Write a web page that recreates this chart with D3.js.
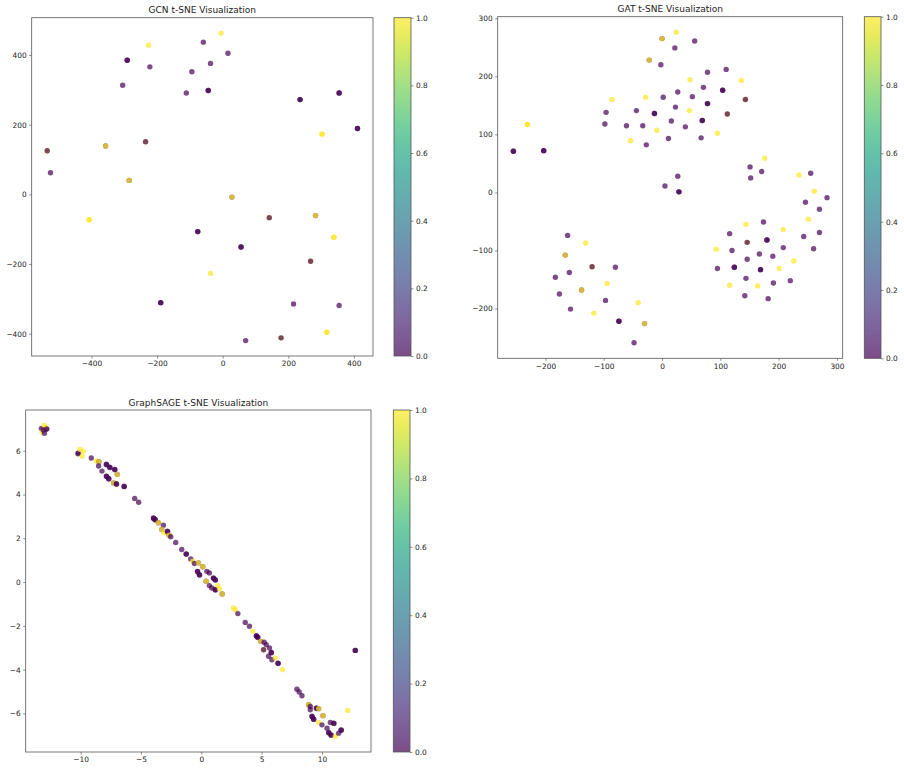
<!DOCTYPE html>
<html><head><meta charset="utf-8">
<script src="https://cdn.jsdelivr.net/npm/d3@7"></script>
<style>body{margin:0;background:#fff}svg{display:block}text{font-family:"DejaVu Sans",sans-serif;fill:#222}</style>
</head><body><svg id="c" width="904" height="769"></svg>
<script>
// ---------- DATA ----------
const colorbarTicks = [0, 0.2, 0.4, 0.6, 0.8, 1.0];

// GCN
const gcnX = [-59,16,-222,-37,-94,-305,-111,-525,216,355,70,
  -291,-291,-44,-44,236,236,355,355,411,411,-76,-76,56,56,-189,-189,
  -226,-5,-37,
  303,303,-407,-407,339,339,317,317,
  -357,-357,-285,-285,28,28,283,283,
  -535,-535,-235,-235,142,142,268,268,178,178];
const gcnY = [437,405,366,376,352,313,291,62,-315,-319,-420,
  385,385,298,298,272,272,291,291,189,189,-107,-107,-151,-151,-311,-311,
  428,463,-227,
  173,173,-73,-73,-123,-123,-396,-396,
  139,139,40,40,-8,-8,-61,-61,
  125,125,151,151,-67,-67,-192,-192,-412,-412];
const gcnLabel = [0,0,0,0,0,0,0,0,0,0,0,
  0,0,0,0,0,0,0,0,0,0,0,0,0,0,0,0,
  1,1,1,
  1,1,1,1,1,1,1,1,
  0,1,0,1,0,1,0,1,
  1,0,1,0,1,0,1,0,1,0];
const gcnXTicks = [-400,-200,0,200,400];
const gcnYTicks = [-400,-200,0,200,400];

// GAT
const gatX = [56,22,-2,78,110,71,27,2,52,-96,-44,23,16,-98,-61,-33,40,11,67,-27,5,27,151,171,152,255,283,246,270,174,116,243,270,208,260,120,167,190,146,95,144,220,191,142,182,-162,-80,-183,-159,-176,-157,-97,-48,
  104,104,78,78,-13,-13,69,69,-255,-255,-203,-203,29,29,180,180,124,124,169,169,-74,-74,
  24.5,48,136,-86,-28,47,-9,95,-54,176,235,261,251,144,208,93,226,201,116,164,-131,-94,-41,-117,
  -231,-231,
  0,0,-22,-22,-166,-166,-138,-138,-30,-30,
  143,143,112,112,146,146,-120,-120];
const gatY = [261,249,220,207,212,181,173,164,165,138,141,147,123,118,115,115,113,93,94,82,11,28,44,36,25,33,-9,-17,-29,-51,-71,-76,-69,-95,-97,-100,-106,-110,-115,-131,-148,-152,-156,-178,-183,-74,-129,-146,-138,-175,-201,-186,-259,
  176,176,153,153,136,136,124,124,71,71,72,72,1,1,-82,-82,-129,-129,-133,-133,-222,-222,
  276,194,193,160,164,141,107,102,89,59,30,2,-46,-55,-64,-98,-118,-131,-160,-161,-87,-157,-190,-208,
  117,117,
  265,265,228,228,-108,-108,-168,-168,-226,-226,
  160,160,135,135,-86,-86,-128,-128];
const gatLabel = [0,0,0,0,0,0,0,0,0,0,0,0,0,0,0,0,0,0,0,0,0,0,0,0,0,0,0,0,0,0,0,0,0,0,0,0,0,0,0,0,0,0,0,0,0,0,0,0,0,0,0,0,0,
  0,0,0,0,0,0,0,0,0,0,0,0,0,0,0,0,0,0,0,0,0,0,
  1,1,1,1,1,1,1,1,1,1,1,1,1,1,1,1,1,1,1,1,1,1,1,1,
  1,1,
  0,1,0,1,0,1,0,1,0,1,
  1,0,1,0,1,0,1,0];
const gatXTicks = [-200,-100,0,100,200,300];
const gatYTicks = [-200,-100,0,100,200,300];

// GraphSAGE
const sageX = [-13.25,-13.0,-12.85,-12.9,-13.2,-13.0,-13.1,-12.8,
  -10.22,-10.18,-10.05,-9.8,-9.87,-9.12,-8.7,-8.48,-8.48,-8.51,-8.23,
  -7.87,-7.85,-7.59,-7.57,-7.18,-7.16,-6.96,-6.96,-7.87,-7.85,-7.68,-7.66,-7.26,-7.26,-7.04,-7.02,-6.4,-6.38,
  -5.52,-5.19,-3.97,-3.95,-3.83,-3.81,-3.56,-3.56,-3.14,-3.28,-3.28,-3.09,-2.81,-2.79,-2.67,-2.67,-2.53,-2.12,-1.62,-1.26,-1.24,
  -0.87,-0.71,-0.57,-0.24,-0.24,0.12,0.12,0.46,0.67,-0.32,-0.30,-0.16,-0.14,1.0,1.02,1.15,1.17,0.4,0.4,0.67,0.87,1.15,1.17,
  1.37,1.51,1.73,1.73,2.67,2.81,3.03,3.64,3.99,4.27,4.55,4.57,4.66,4.68,4.94,4.94,5.21,5.38,5.16,5.16,5.65,5.79,5.81,5.57,5.85,6.13,6.35,6.37,6.73,
  12.76,12.76,7.92,8.11,8.34,8.89,8.89,9.03,9.53,9.55,9.72,9.72,9.03,9.17,9.19,9.3,9.32,10.08,10.08,9.72,10.0,10.69,10.97,10.99,10.42,10.55,10.57,10.75,10.77,11.1,11.38,11.58,11.6,12.13];
const sageY = [7.02,7.15,6.98,7.08,6.86,6.8,6.95,7.0,
  5.86,5.9,6.06,5.98,5.75,5.67,5.53,5.5,5.5,5.3,5.07,
  5.38,5.36,5.25,5.23,5.15,5.13,4.92,4.92,4.84,4.82,4.73,4.71,4.53,4.53,4.49,4.47,4.38,4.36,
  3.82,3.65,2.93,2.91,2.86,2.84,2.71,2.71,2.6,2.4,2.4,2.25,2.32,2.3,2.14,2.14,2.07,1.81,1.49,1.29,1.27,
  1.06,0.95,0.85,0.88,0.88,0.7,0.7,0.49,0.42,0.49,0.47,0.34,0.32,0.19,0.17,0.11,0.09,0.04,0.04,-0.16,-0.27,-0.34,-0.36,
  -0.16,-0.31,-0.54,-0.54,-1.18,-1.26,-1.44,-1.84,-2.02,-2.25,-2.45,-2.47,-2.51,-2.53,-2.71,-2.71,-2.75,-2.86,-3.09,-3.09,-3.01,-3.21,-3.23,-3.39,-3.55,-3.47,-3.7,-3.72,-4.0,
  -3.12,-3.12,-4.89,-5.02,-5.19,-5.6,-5.6,-5.68,-5.75,-5.77,-5.78,-5.78,-5.83,-6.13,-6.15,-6.25,-6.27,-6.1,-6.1,-6.41,-6.52,-6.41,-6.44,-6.46,-6.67,-6.87,-6.89,-6.98,-7.0,-7.05,-6.9,-6.75,-6.77,-5.86];
const sageLabel = [0,1,0,1,1,0,0,0,
  0,0,1,1,1,0,1,0,1,0,0,
  0,0,0,0,0,0,0,1,0,0,0,0,0,1,0,0,0,0,
  0,0,0,0,0,0,0,1,0,0,1,1,0,0,0,1,0,0,0,0,0,
  0,1,0,0,1,0,1,0,0,0,0,0,0,0,0,0,0,0,1,0,0,0,0,
  1,1,0,1,1,1,0,0,0,1,0,0,0,0,0,1,0,0,1,0,0,0,0,0,0,1,0,0,1,
  0,0,0,0,0,0,1,0,0,0,0,1,0,0,0,0,0,0,1,1,0,0,0,0,0,0,0,0,0,1,0,0,0,1];
const sageXTicks = [-10,-5,0,5,10];
const sageYTicks = [-6,-4,-2,0,2,4,6];

// ---------- DRAW ----------
const svg = d3.select('#c');
const color = d3.interpolateViridis;
const ALPHA = 0.7, R = 2.7;
const TICK_FS = '7.4px', TITLE_FS = '9px';

const defs = svg.append('defs');
const grad = defs.append('linearGradient').attr('id','vir').attr('x1',0).attr('y1',1).attr('x2',0).attr('y2',0);
d3.range(0, 1.0001, 0.05).forEach(t => grad.append('stop').attr('offset', t).attr('stop-color', color(t)));

function pad(ext){ const d = (ext[1]-ext[0])*0.05; return [ext[0]-d, ext[1]+d]; }

function panel(title, xs, ys, labels, xTicks, yTicks, box, cb){
  const g = svg.append('g');
  const x = d3.scaleLinear().domain(pad(d3.extent(xs))).range([box.l, box.r]);
  const y = d3.scaleLinear().domain(pad(d3.extent(ys))).range([box.b, box.t]);
  g.append('g').selectAll('circle').data(d3.range(xs.length)).join('circle')
    .attr('cx', i => x(xs[i])).attr('cy', i => y(ys[i])).attr('r', R)
    .attr('fill', i => color(labels[i])).attr('fill-opacity', ALPHA);
  const fmt = d3.format('d');
  const ax = g.append('g').attr('transform', `translate(0,${box.b})`)
    .call(d3.axisBottom(x).tickValues(xTicks).tickFormat(fmt).tickSize(2.5).tickPadding(2.5));
  const ay = g.append('g').attr('transform', `translate(${box.l},0)`)
    .call(d3.axisLeft(y).tickValues(yTicks).tickFormat(fmt).tickSize(2.5).tickPadding(2.5));
  [ax, ay].forEach(a => { a.select('.domain').remove(); a.selectAll('text').style('font-size',TICK_FS).attr('fill','#222'); a.selectAll('line').attr('stroke','#444').attr('stroke-width',0.6); });
  g.append('rect').attr('x', box.l).attr('y', box.t).attr('width', box.r-box.l).attr('height', box.b-box.t)
    .attr('fill','none').attr('stroke','#555').attr('stroke-width',0.8);
  g.append('text').attr('x', (box.l+box.r)/2).attr('y', box.t-4.3).attr('text-anchor','middle')
    .style('font-size',TITLE_FS).text(title);
  const cy = d3.scaleLinear().domain([0,1]).range([box.b, box.t]);
  g.append('rect').attr('x', cb.l).attr('y', box.t).attr('width', cb.r-cb.l).attr('height', box.b-box.t)
    .attr('fill','url(#vir)').attr('fill-opacity', ALPHA);
  g.append('rect').attr('x', cb.l).attr('y', box.t).attr('width', cb.r-cb.l).attr('height', box.b-box.t)
    .attr('fill','none').attr('stroke','#555').attr('stroke-width',0.8);
  const ac = g.append('g').attr('transform', `translate(${cb.r},0)`)
    .call(d3.axisRight(cy).tickValues(colorbarTicks).tickFormat(d3.format('.1f')).tickSize(2.5).tickPadding(2.5));
  ac.select('.domain').remove();
  ac.selectAll('text').style('font-size',TICK_FS).attr('fill','#222');
  ac.selectAll('line').attr('stroke','#444').attr('stroke-width',0.6);
}

panel('GCN t-SNE Visualization', gcnX, gcnY, gcnLabel, gcnXTicks, gcnYTicks,
  {l:31.7, r:373, t:17.7, b:356}, {l:394, r:411});
panel('GAT t-SNE Visualization', gatX, gatY, gatLabel, gatXTicks, gatYTicks,
  {l:497.7, r:842.7, t:16.7, b:358.3}, {l:864.3, r:881});
panel('GraphSAGE t-SNE Visualization', sageX, sageY, sageLabel, sageXTicks, sageYTicks,
  {l:25.7, r:371, t:410, b:752}, {l:393.3, r:410});
</script></body></html>
